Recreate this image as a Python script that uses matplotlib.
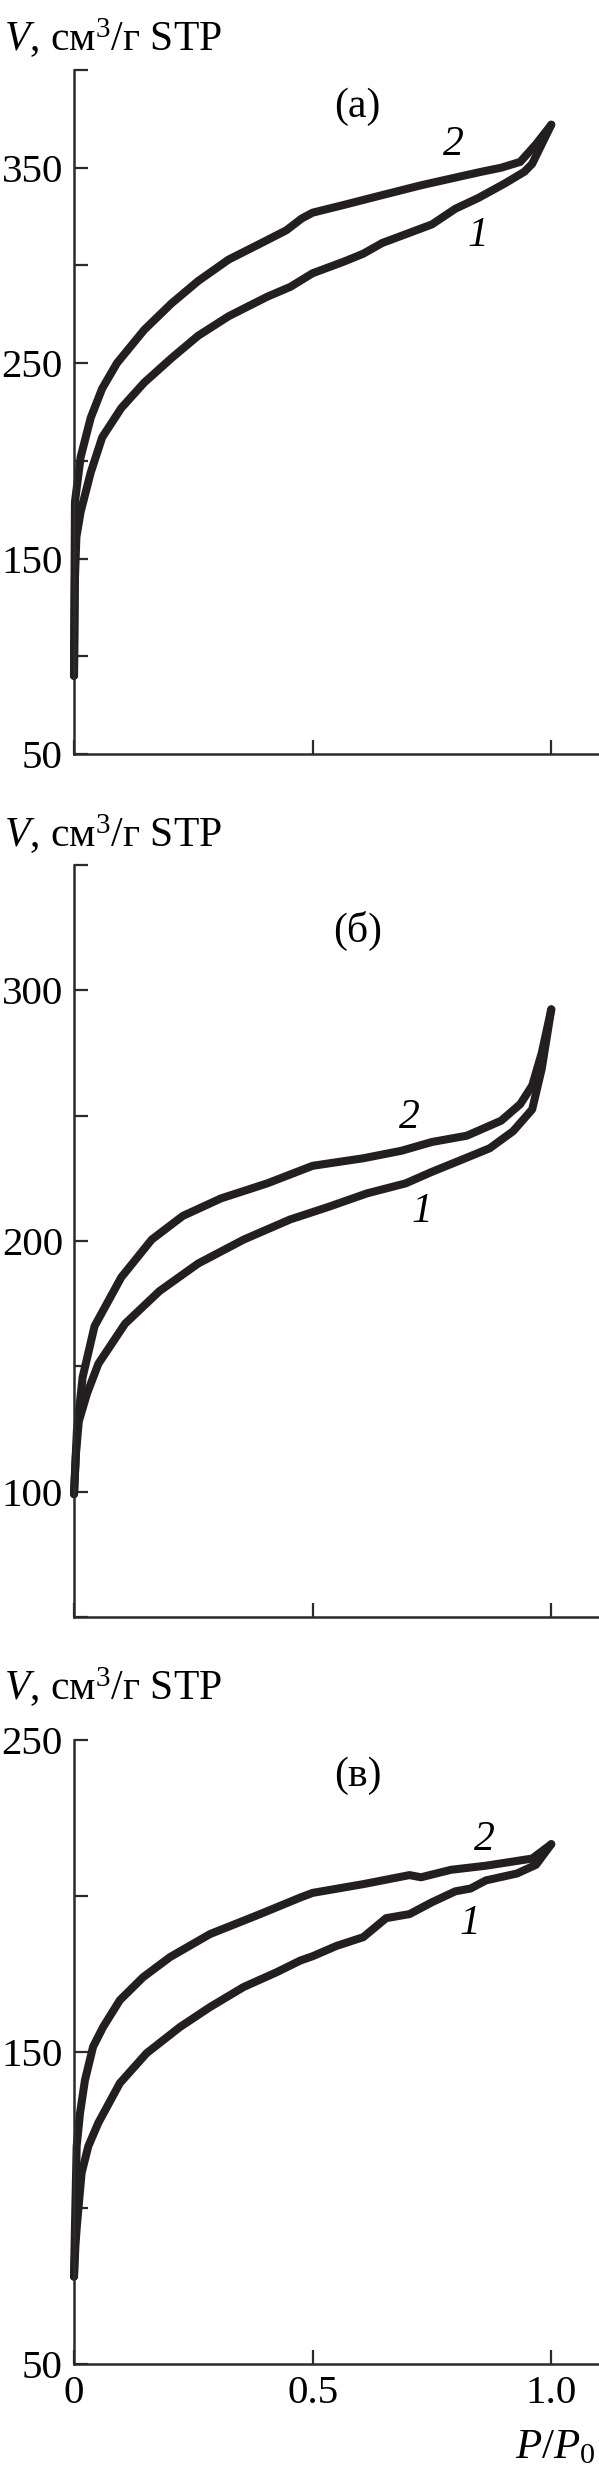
import matplotlib
matplotlib.use('Agg')
import matplotlib.pyplot as plt

plt.rcParams['font.family'] = 'Liberation Serif'
plt.rcParams['mathtext.fontset'] = 'custom'
plt.rcParams['mathtext.rm'] = 'Liberation Serif'
plt.rcParams['mathtext.it'] = 'Liberation Serif:italic'
plt.rcParams['font.size'] = 30

# panel (a)
a_x1 = [0, 0.002, 0.005, 0.014, 0.035, 0.059, 0.099, 0.147, 0.204, 0.26, 0.324, 0.405, 0.453, 0.5,
        0.566, 0.606, 0.646, 0.703, 0.75, 0.799, 0.847, 0.903, 0.944, 0.96, 1.0]
a_y1 = [90, 140, 161, 174, 194, 212, 227, 240, 252.5, 264, 274, 284, 289, 296,
        302, 306, 311.5, 316.7, 321, 329, 334.5, 342, 348, 352, 372]
a_x2 = [0, 0.002, 0.014, 0.035, 0.059, 0.09, 0.147, 0.204, 0.26, 0.324, 0.397, 0.445, 0.477, 0.5,
        0.566, 0.646, 0.727, 0.807, 0.855, 0.895, 0.935, 0.968, 1.0]
a_y2 = [90, 179, 202, 222, 237, 250, 267, 280.5, 292, 303, 312, 318, 324, 327,
        331, 336, 341, 345.4, 348, 350, 353, 362, 372]

# panel (б)
b_x1 = [0, 0.004, 0.01, 0.027, 0.051, 0.107, 0.179, 0.26, 0.356, 0.453, 0.533, 0.614, 0.695,
        0.75, 0.807, 0.871, 0.92, 0.96, 0.98, 1.0]
b_y1 = [99, 115, 128, 139, 151, 167, 180, 191, 200.6, 208.6, 213.6, 219, 223,
        227.6, 232, 237, 243.8, 252.5, 268.7, 292.4]
b_x2 = [0, 0.006, 0.018, 0.043, 0.099, 0.163, 0.228, 0.308, 0.405, 0.5, 0.606, 0.686, 0.75,
        0.823, 0.895, 0.935, 0.96, 0.98, 1.0]
b_y2 = [99, 124, 145.6, 166, 185.5, 200.6, 210, 217, 223, 230, 233, 236, 239.5,
        242, 248, 254.6, 262, 275, 292.4]

# panel (в)
c_x1 = [0, 0.003, 0.006, 0.016, 0.030, 0.051, 0.096, 0.152, 0.222, 0.285, 0.355, 0.425, 0.474,
        0.5, 0.55, 0.606, 0.654, 0.703, 0.75, 0.799, 0.831, 0.863, 0.928, 0.968, 1.0]
c_y1 = [78, 88, 94.3, 111.3, 119.8, 127.3, 140, 149.6, 158, 164.4, 170.8, 175.6, 179.3,
        180.7, 184, 186.8, 192.9, 194.2, 198, 201.5, 202.4, 205, 207.2, 210, 216.6]
c_x2 = [0, 0.002, 0.0056, 0.0126, 0.023, 0.040, 0.061, 0.096, 0.145, 0.201, 0.285, 0.39, 0.474,
        0.5, 0.606, 0.703, 0.727, 0.79, 0.863, 0.96, 1.0]
c_y2 = [78, 94, 119.8, 130.4, 141, 151.7, 158, 166.6, 174, 180.4, 187.8, 194.2, 199.5,
        201, 203.8, 206.7, 206, 208.4, 209.7, 212, 216.6]

panel_names = ['(а)', '(б)', '(в)']
ylims = [(50, 400), (50, 350), (50, 250)]
ylabeled = [[50, 150, 250, 350], [100, 200, 300], [50, 150, 250]]
xticks = [0, 0.5, 1.0]
xticklabels = ['0', '0.5', '1.0']

W, H = 599, 2482
# axes boxes in pixels: top, bottom
boxes = [(70, 754), (865, 1617), (1740, 2364)]
ylabel_base = [51, 847, 1700]
name_pos = [(0.594, 381), (0.594, 323.7), (0.594, 238.7)]
num_pos = [((0.847, 315), (0.795, 362)), ((0.73, 211.5), (0.702, 249)), ((0.83, 191), (0.859, 218))]

data = [((a_x1, a_y1), (a_x2, a_y2)),
        ((b_x1, b_y1), (b_x2, b_y2)),
        ((c_x1, c_y1), (c_x2, c_y2))]

ink = '#231f20'
fig = plt.figure(figsize=(W / 100, H / 100), dpi=100)
left = 74
for i in range(3):
    top, bot = boxes[i]
    ax = fig.add_axes([left / W, 1 - bot / H, (W - left) / W, (bot - top) / H])
    for xs, ys in data[i]:
        ax.plot(xs, ys, color=ink, lw=5.8, solid_capstyle='round', solid_joinstyle='round', clip_on=False)
    ax.set_xlim(0, 1.1)
    ax.set_ylim(*ylims[i])
    lo, hi = ylims[i]
    yt = list(range(lo, hi + 1, 50))
    ax.set_yticks(yt)
    ax.set_yticklabels([str(v) if v in ylabeled[i] else '' for v in yt])
    ax.set_xticks(xticks)
    if i == 2:
        ax.set_xticklabels(xticklabels)
    else:
        ax.set_xticklabels(['', '', ''])
    for s in ['top', 'right']:
        ax.spines[s].set_visible(False)
    for s in ['left', 'bottom']:
        ax.spines[s].set_linewidth(1.8)
        ax.spines[s].set_color('#2a2a2a')
    ax.tick_params(direction='in', length=10, width=1.6, color='#2a2a2a', pad=8, labelsize=29.5)
    ax.text(name_pos[i][0], name_pos[i][1], panel_names[i], ha='center', va='center', fontsize=30)
    for k, (px, py) in enumerate(num_pos[i]):
        ax.text(px, py, str(k + 1), ha='center', va='center', fontsize=30, style='italic')
    fig.text(4 / W, 1 - ylabel_base[i] / H, r'$V$, см$^3$/г STP', ha='left', va='baseline', fontsize=30)

fig.text(596 / W, 1 - 2448 / H, r'$P/P_0$', ha='right', va='center', fontsize=31)

fig.savefig('out.png', dpi=100)
